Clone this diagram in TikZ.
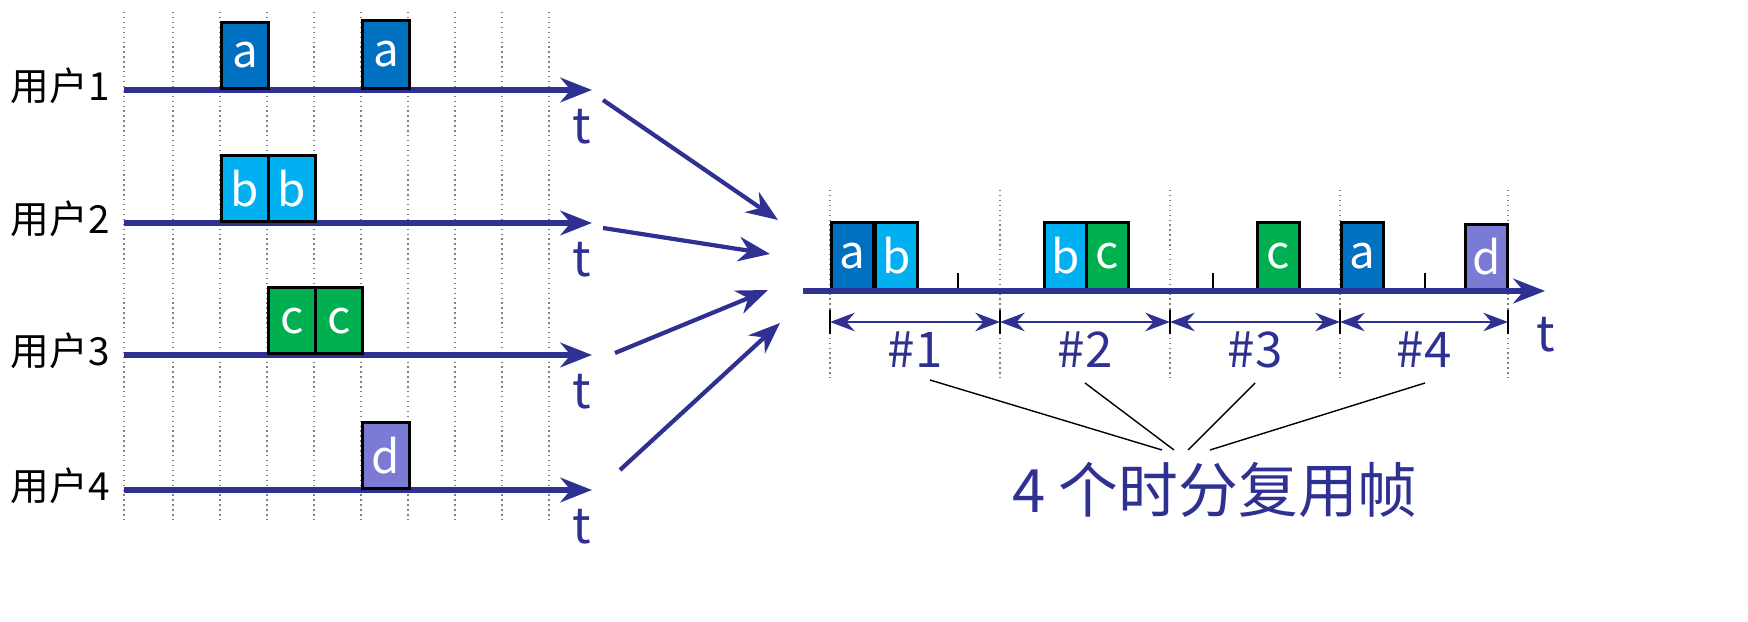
\documentclass[tikz,border=0pt]{standalone}
\usepackage{fontspec}
\setmainfont{Noto Sans CJK SC}
\usetikzlibrary{arrows.meta,positioning}
\definecolor{axisblue}{HTML}{2E3192}
\definecolor{ca}{HTML}{0070C0}
\definecolor{cb}{HTML}{00B0F0}
\definecolor{cc}{HTML}{00B050}
\definecolor{cd}{HTML}{7B7BD5}
\tikzset{
  slot/.style={draw=black, thick, text=white, anchor=south west, inner sep=0pt,
    minimum height=0.66cm, font=\fontsize{13}{13}\selectfont},
  axis/.style={axisblue, line width=1.6pt, -{Stealth[length=9pt,width=7pt]}},
  grid/.style={gray, densely dotted, thin},
  tlabel/.style={axisblue, font=\fontsize{14}{14}\selectfont},
  user/.style={anchor=west, inner sep=0pt, font=\fontsize{11}{11}\selectfont},
  feed/.style={axisblue, line width=1.2pt, -{Stealth[length=9pt,width=7pt]}}
}
\begin{document}
\begin{tikzpicture}[x=0.01cm,y=-0.01cm]
  \useasboundingbox (0,0) rectangle (1748,622);

  % left: four users
  \foreach \x in {124,173,220,267,314,361,408,455,502,549}
    \draw[grid] (\x,12) -- (\x,522);
  \foreach \i/\y in {1/90,2/223,3/355,4/490} {
    \node[user] (u\i) at (10,\y-4) {用户\i};
    \draw[axis] (124,\y) -- (592,\y) coordinate (e\i);
    \node[tlabel] (t\i) at (582,\y+37) {t};
  }
  \node[slot, fill=ca, minimum width=0.47cm] (a1) at (220,90) {a};
  \node[slot, fill=ca, minimum width=0.47cm, minimum height=0.68cm] (a2) at (361,90) {a};
  \node[slot, fill=cb, minimum width=0.47cm] (b1) at (220,223) {b};
  \node[slot, fill=cb, minimum width=0.47cm] (b2) at (267,223) {b};
  \node[slot, fill=cc, minimum width=0.47cm] (c1) at (267,355) {c};
  \node[slot, fill=cc, minimum width=0.47cm] (c2) at (314,355) {c};
  \node[slot, fill=cd, minimum width=0.47cm] (d1) at (361,490) {d};

  % right: multiplexed line
  \foreach \x in {830,1000,1170,1340,1508}
    \draw[grid] (\x,190) -- (\x,380);
  \foreach \x in {958,1213,1425}
    \draw[black, thick] (\x,273) -- (\x,291);
  \node[slot, fill=ca, minimum width=0.42cm, minimum height=0.67cm] (ra1) at (830,291) {a};
  \node[slot, fill=cb, minimum width=0.42cm, minimum height=0.67cm] (rb1) at (874,291) {b};
  \node[slot, fill=cb, minimum width=0.42cm, minimum height=0.67cm] (rb2) at (1043,291) {b};
  \node[slot, fill=cc, minimum width=0.42cm, minimum height=0.67cm] (rc1) at (1085,291) {c};
  \node[slot, fill=cc, minimum width=0.42cm, minimum height=0.67cm] (rc2) at (1256,291) {c};
  \node[slot, fill=ca, minimum width=0.42cm, minimum height=0.67cm] (ra2) at (1340,291) {a};
  \node[slot, fill=cd, minimum width=0.42cm, minimum height=0.65cm] (rd1) at (1464,291) {d};
  \draw[axis] (803,291) -- (1545,291);
  \node[tlabel] (tr) at (1546,335) {t};

  \foreach \i/\xa/\xb in {1/830/1000,2/1000/1170,3/1170/1340,4/1340/1508} {
    \coordinate (f\i l) at (\xa,322);
    \coordinate (f\i r) at (\xb,322);
    \draw[axisblue, thick, {Stealth[length=7pt]}-{Stealth[length=7pt]}] (f\i l) -- (f\i r);
    \draw[black, thick] (\xa,310) -- (\xa,334);
    \node[tlabel] (h\i) at ({(\xa+\xb)/2},350) {\#\i};
  }
  \draw[black, thick] (1508,310) -- (1508,334);

  \node[axisblue, font=\fontsize{17}{17}\selectfont] (frames) at (1215,490) {4 个时分复用帧};
  \draw[black] (930,380) -- (1162,450);
  \draw[black] (1085,383) -- (1174,450);
  \draw[black] (1255,383) -- (1188,450);
  \draw[black] (1425,383) -- (1210,450);

  % user lines into the multiplexer
  \coordinate (j1) at (778,220);
  \coordinate (j2) at (770,254);
  \coordinate (j3) at (768,290);
  \coordinate (j4) at (780,323);
  \coordinate (s1) at (603,100);
  \coordinate (s2) at (603,228);
  \coordinate (s3) at (615,353);
  \coordinate (s4) at (620,470);
  \foreach \i in {1,...,4}
    \draw[feed] (s\i) -- (j\i);
\end{tikzpicture}
\end{document}
